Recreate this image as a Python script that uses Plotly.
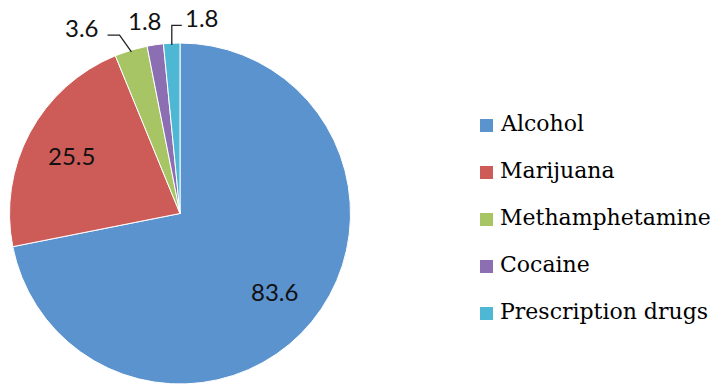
import math
import plotly.graph_objects as go

# Substances and their counts
categories = ["Alcohol", "Marijuana", "Methamphetamine", "Cocaine", "Prescription drugs"]
values = [83.6, 25.5, 3.6, 1.8, 1.8]
colors = ["#5B93CF", "#CD5C59", "#A7C565", "#8C6EB2", "#4DB7D4"]
# how each value label is placed: inside the slice, just outside, or outside with a leader line
label_modes = ["inside", "inside", "leader_left", "outside", "leader_right"]

W, H = 716, 386
CX, CY, R = 180.0, 213.5, 170.5  # pie centre and radius (px)


def to_paper(x, y):
    return x / W, 1 - y / H


def polar(angle_deg, r):
    # angle measured clockwise from 12 o'clock
    a = math.radians(angle_deg)
    return CX + r * math.sin(a), CY - r * math.cos(a)


fig = go.Figure(
    go.Pie(
        labels=categories,
        values=values,
        sort=False,
        direction="clockwise",
        rotation=0,
        marker=dict(colors=colors, line=dict(color="white", width=1)),
        textinfo="none",
        hoverinfo="label+value",
        showlegend=False,
        domain=dict(x=[(CX - R) / W, (CX + R) / W], y=[1 - (CY + R) / H, 1 - (CY - R) / H]),
    )
)

annotations = []
shapes = []
label_font = dict(family="Lato, Carlito, sans-serif", size=24, color="#111111")

total = sum(values)
start = 0.0
for val, mode in zip(values, label_modes):
    sweep = 360.0 * val / total
    mid = start + sweep / 2
    start += sweep
    text = f"{val:g}"
    if mode == "inside":
        x, y = polar(mid, 0.72 * R)
        xp, yp = to_paper(x, y)
        annotations.append(dict(x=xp, y=yp, xref="paper", yref="paper", text=text,
                                showarrow=False, font=label_font, xanchor="center", yanchor="middle"))
    elif mode == "outside":
        x, y = polar(mid - 1.8, 1.15 * R)
        xp, yp = to_paper(x, y)
        annotations.append(dict(x=xp, y=yp, xref="paper", yref="paper", text=text,
                                showarrow=False, font=label_font, xanchor="center", yanchor="middle"))
    else:
        side = -1 if mode == "leader_left" else 1
        x0, y0 = polar(mid, 0.99 * R)
        x1, y1 = polar(mid + (2 if side < 0 else 0) * side, 1.105 * R)
        if side > 0:
            x1 = x0
        x2 = x1 + side * (12 if side < 0 else 10)
        path = "M {} {} L {} {} L {} {}".format(*to_paper(x0, y0), *to_paper(x1, y1), *to_paper(x2, y1))
        shapes.append(dict(type="path", path=path, xref="paper", yref="paper",
                           line=dict(color="#222222", width=1.3)))
        xt, yt = to_paper(x2 + side * (7 if side < 0 else 1), y1 - 8)
        annotations.append(dict(x=xt, y=yt, xref="paper", yref="paper", text=text,
                                showarrow=False, font=label_font,
                                xanchor="right" if side < 0 else "left", yanchor="middle"))

# Legend drawn as coloured squares with serif labels
LEG_X, LEG_Y0, LEG_STEP, SQ = 480, 125.5, 47, 13
for i, (name, col) in enumerate(zip(categories, colors)):
    yc = LEG_Y0 + i * LEG_STEP
    xa, ya = to_paper(LEG_X, yc - SQ / 2)
    xb, yb = to_paper(LEG_X + SQ, yc + SQ / 2)
    shapes.append(dict(type="rect", xref="paper", yref="paper", x0=xa, x1=xb, y0=yb, y1=ya,
                       fillcolor=col, line=dict(width=0)))
    xt, yt = to_paper(LEG_X + 18, yc - 2)
    annotations.append(dict(x=xt, y=yt, xref="paper", yref="paper", text=name, showarrow=False,
                            xanchor="left", yanchor="middle",
                            font=dict(family="DejaVu Serif, serif", size=22, color="#000000")))

fig.update_layout(
    width=W,
    height=H,
    margin=dict(l=0, r=0, t=0, b=0),
    paper_bgcolor="white",
    plot_bgcolor="white",
    annotations=annotations,
    shapes=shapes,
)

fig.write_html("out.html")
